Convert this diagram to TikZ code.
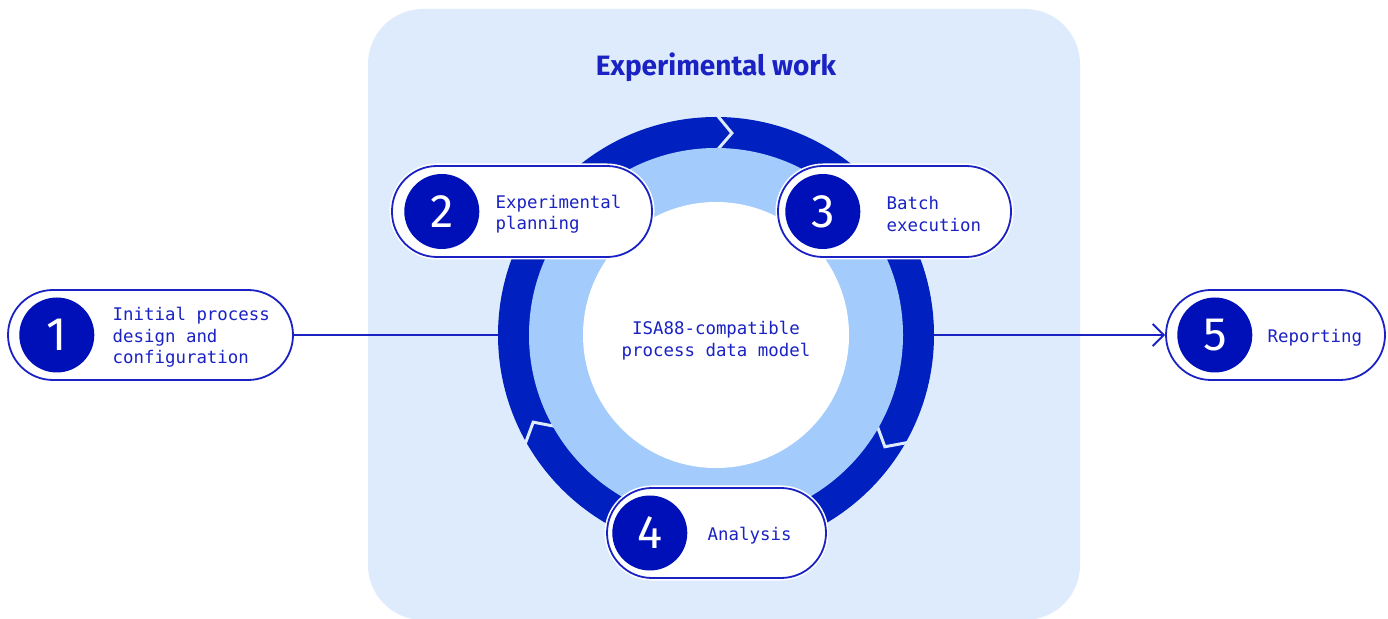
\documentclass[tikz,border=0pt]{standalone}
\usepackage{fontspec}
\setmainfont{Fira Sans}
\setmonofont{DejaVu Sans Mono}
\usetikzlibrary{positioning,arrows.meta}
\definecolor{ink}{HTML}{1A22C4}
\definecolor{ringdark}{HTML}{0020BF}
\definecolor{ringlight}{HTML}{A3CCFC}
\definecolor{panel}{HTML}{DDEBFC}
\definecolor{numfill}{HTML}{0010B8}

\begin{document}
\begin{tikzpicture}[x=1pt,y=1pt,>={Straight Barb[length=11pt,width=22pt,line width=2pt]},
    pill/.style={rectangle,rounded corners=45pt,draw=ink,line width=1.8pt,fill=white,inner sep=0pt,minimum height=90pt,
        preaction={draw=white,line width=5pt}},
    num/.style={circle,fill=numfill,text=white,inner sep=0pt,minimum size=75pt,font=\fontsize{47}{47}\selectfont},
    label/.style={inner sep=0pt,align=left,text=ink,yshift=-2.5pt,font=\ttfamily\fontsize{17.4}{21.5}\selectfont},
    link/.style={draw=ink,line width=2pt},
    notch/.style={draw=panel,line width=3pt}]
    \useasboundingbox (0,0) rectangle (1388,618);
    \fill[panel,rounded corners=55pt] (368,-2) rectangle (1080,609);
    \node[font=\bfseries\fontsize{28}{28}\selectfont,text=ink] (title) at (716,551) {Experimental work};

    % steps
    \node[pill,minimum width=285pt] (p1) at (150.5,283) {};
    \node[pill,minimum width=219pt] (p5) at (1275.5,283) {};
    \path[link,->] (p1) edge (p5);

    % cycle
    \coordinate (c) at (716,283);
    \fill[ringdark] (c) circle (218);
    \foreach \a in {90,-29,210}
        \draw[notch] ([shift={(\a+0.4:223)}]c) -- ([shift={(\a-4.5:202.5)}]c) -- ([shift={(\a+0.4:182)}]c);
    \fill[ringlight] (c) circle (187);
    \fill[white] (c) circle (133);
    \node[label,align=center,yshift=-3pt] (model) at (c) {ISA88-compatible\\process data model};

    \node[pill,minimum width=260pt,minimum height=91pt] (p2) at (522,406.5) {};
    \node[pill,minimum width=233pt,minimum height=91pt] (p3) at (894.5,406.5) {};
    \node[pill,minimum width=219pt] (p4) at (716.5,85) {};

    \node[num,right=12pt of p1.west] (n1) {1};
    \node[num,right=13pt of p2.west] (n2) {2};
    \node[num,right=8pt of p3.west] (n3) {3};
    \node[num,right=6pt of p4.west] (n4) {4};
    \node[num,right=12pt of p5.west] (n5) {5};

    \node[label,right=18pt of n1] (t1) {Initial process\\design and\\configuration};
    \node[label,right=16pt of n2] (t2) {Experimental\\planning};
    \node[label,right=26pt of n3] (t3) {Batch\\execution};
    \node[label,right=20pt of n4] (t4) {Analysis};
    \node[label,right=15pt of n5] (t5) {Reporting};
\end{tikzpicture}
\end{document}
